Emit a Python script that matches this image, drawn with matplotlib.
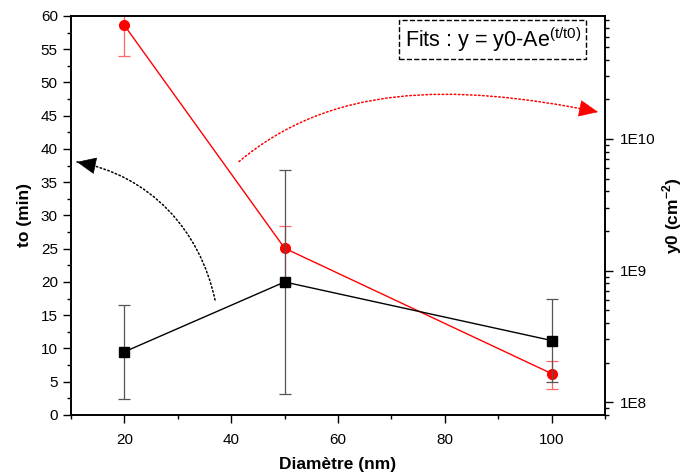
import numpy as np
import matplotlib
matplotlib.use("Agg")
import matplotlib.pyplot as plt
from matplotlib.patches import FancyArrowPatch
from matplotlib.path import Path
from matplotlib.ticker import MultipleLocator, LogLocator, FixedLocator, NullFormatter

plt.rcParams['font.family'] = ['Liberation Sans', 'DejaVu Sans']
plt.rcParams['mathtext.fontset'] = 'custom'
plt.rcParams['mathtext.rm'] = 'Liberation Sans'
plt.rcParams['mathtext.bf'] = 'Liberation Sans:bold'

# data
diam = [20, 50, 100]
t0 = [9.5, 20.0, 11.2]          # left axis (min)
t0_err = [7.1, 16.9, 6.3]
y0 = [7.3e10, 1.48e9, 1.65e8]   # right axis (cm-2)
y0_err = [3.0e10, 0.7e9, 0.4e8]
right_ticks = [1e8, 1e9, 1e10]
right_labels = ['1E8', '1E9', '1E10']

fig = plt.figure(figsize=(6.84, 4.74), dpi=100)
ax = fig.add_axes([0.1038, 0.1245, 0.7807, 0.8418])
ax2 = ax.twinx()

# black series : to
ax.errorbar(diam, t0, yerr=t0_err, color='black', marker='s', markersize=7,
            linewidth=1, ecolor='#555555', elinewidth=0.9, capsize=4, capthick=0.9)
ax.set_xlim(10, 110)
ax.set_ylim(0, 60)
ax.xaxis.set_major_locator(MultipleLocator(20))
ax.xaxis.set_minor_locator(FixedLocator([10, 30, 50, 70, 90, 110]))
ax.yaxis.set_major_locator(MultipleLocator(5))
ax.yaxis.set_minor_locator(MultipleLocator(2.5))
ax.tick_params(which='both', direction='out', labelsize=11, width=1)
ax.tick_params(which='major', length=6)
ax.tick_params(which='minor', length=3)
ax.tick_params(axis='x', top=False, pad=7)
ax.set_xlabel('Diamètre (nm)', fontsize=12.5, fontweight='bold', labelpad=7)
ax.set_ylabel('to (min)', fontsize=12.5, fontweight='bold', labelpad=6)

# red series : y0 (log)
ax2.errorbar(diam, y0, yerr=y0_err, color='red', marker='o', markersize=7,
             linewidth=1, ecolor='#ff6666', elinewidth=0.9, capsize=4, capthick=0.9)
ax2.set_yscale('log')
ax2.set_ylim(8.0e7, 8.6e10)
ax2.yaxis.set_major_locator(FixedLocator(right_ticks))
ax2.set_yticklabels(right_labels)
ax2.yaxis.set_minor_locator(LogLocator(base=10, subs=np.arange(2, 10)))
ax2.yaxis.set_minor_formatter(NullFormatter())
ax2.tick_params(which='both', direction='out', labelsize=11, width=1, pad=5)
ax2.tick_params(which='major', length=6)
ax2.tick_params(which='minor', length=3)
ax2.set_ylabel(r'y0 (cm$^{\mathbf{-2}}$)', fontsize=12.5, fontweight='bold', labelpad=3)

for a in (ax, ax2):
    for s in a.spines.values():
        s.set_linewidth(1.2)

# black squares drawn above red series
ax.set_zorder(ax2.get_zorder() + 1)
ax.patch.set_visible(False)


# curved dotted arrows: dotted bezier body + solid head
def curved_arrow(pts, head_from, color):
    body = FancyArrowPatch(path=Path(pts, [Path.MOVETO, Path.CURVE4, Path.CURVE4, Path.CURVE4]),
                           arrowstyle='-', color=color, linestyle=':', linewidth=1.1, clip_on=False)
    head = FancyArrowPatch(head_from, pts[-1], arrowstyle='-|>,head_length=0.9,head_width=0.4',
                           mutation_scale=14, color=color, linewidth=0.5, shrinkA=0, shrinkB=0,
                           clip_on=False)
    ax.add_patch(body)
    ax.add_patch(head)


curved_arrow([(36.97, 17.29), (34.16, 27.82), (24.79, 36.09), (11.12, 38.05)], (12.6, 37.8), 'black')
curved_arrow([(41.46, 38.1), (58.5, 49.62), (80.97, 50.08), (108.69, 45.56)], (107.2, 45.8), 'red')

ax.text(0.790, 0.9416, r'Fits : y = y0-Ae$^{\mathrm{(t/t0)}}$', transform=ax.transAxes,
        ha='center', va='center', fontsize=15.5,
        bbox=dict(boxstyle='square,pad=0.25', fc='white', ec='black', ls='--', lw=1))

fig.savefig('out.png', dpi=100)
